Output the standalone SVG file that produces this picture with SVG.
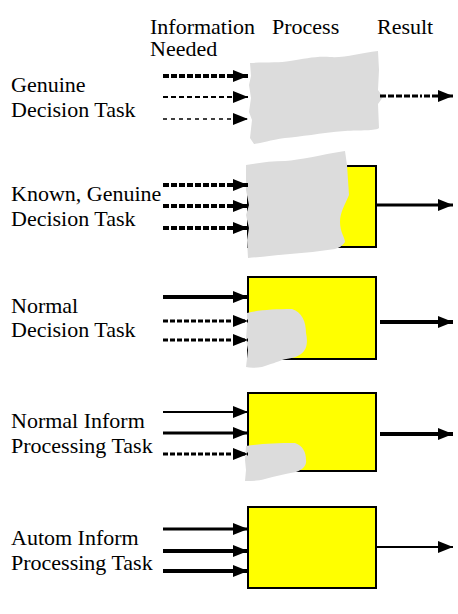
<svg xmlns="http://www.w3.org/2000/svg" width="458" height="614" viewBox="0 0 458 614">
<style>
.box{fill:#ffff00;stroke:#000;stroke-width:2}
.blob{fill:#dcdcdc}
.ln{stroke:#000;fill:none}
</style>
<defs>
<marker id="ah" markerUnits="userSpaceOnUse" viewBox="0 0 15 12" refX="15" refY="6" markerWidth="15" markerHeight="12" orient="auto">
<path d="M0,0 L15,6 L0,12 Z" fill="#000"/>
</marker>
</defs>
<g id="headers">
<text x="150" y="34" font-family="Liberation Serif" font-size="22">Information</text>
<text x="150" y="56" font-family="Liberation Serif" font-size="22">Needed</text>
<text x="272" y="34" font-family="Liberation Serif" font-size="22">Process</text>
<text x="377" y="34" font-family="Liberation Serif" font-size="22">Result</text>
</g>
<g id="label1">
<text x="11" y="92" font-family="Liberation Serif" font-size="22">Genuine</text>
<text x="11" y="117" font-family="Liberation Serif" font-size="22">Decision Task</text>
</g>
<g id="label2">
<text x="11" y="201" font-family="Liberation Serif" font-size="22">Known, Genuine</text>
<text x="11" y="226" font-family="Liberation Serif" font-size="22">Decision Task</text>
</g>
<g id="label3">
<text x="11" y="313" font-family="Liberation Serif" font-size="22">Normal</text>
<text x="11" y="337" font-family="Liberation Serif" font-size="22">Decision Task</text>
</g>
<g id="label4">
<text x="11" y="428" font-family="Liberation Serif" font-size="22">Normal Inform</text>
<text x="11" y="453" font-family="Liberation Serif" font-size="22">Processing Task</text>
</g>
<g id="label5">
<text x="11" y="545" font-family="Liberation Serif" font-size="22">Autom Inform</text>
<text x="11" y="570" font-family="Liberation Serif" font-size="22">Processing Task</text>
</g>
<g id="task1">
<path class="blob" d="M250,63 C265,62 280,63 290,61 C305,59 315,56 330,57 C345,58 360,53 378,51 L379,70 L378,90 L383,97 L378,104 L379,128 C376,131 360,130 345,131 C320,133 300,137 285,138 C270,140 262,143 254,144 L250,138 L252,120 L249,112 L251,98 L249,85 L251,76 Z"/>
</g>
<g id="task2">
<rect class="box" x="248" y="166" width="128" height="81"/>
<path class="blob" d="M246,165 C258,163 270,161 285,161 C300,160 320,155 345,151 L347,165 L348,180 L349,195 C345,205 340,212 340,222 C340,232 345,238 345,242 C342,246 339,248 335,249 C320,251 305,253 290,254 C275,255 262,257 248,258 L247,240 L249,228 L246,215 L249,205 L246,190 Z"/>
</g>
<g id="task3">
<rect class="box" x="248" y="277" width="128" height="82"/>
<path class="blob" d="M247,313 C258,310 275,309 292,309 C302,312 306,322 306,333 C308,342 307,350 301,354 C296,358 290,358 282,360 C278,362 270,364 262,367 C255,368 250,368 246,367 L248,350 L246,340 L247,325 Z"/>
</g>
<g id="task4">
<rect class="box" x="248" y="393" width="128" height="78"/>
<path class="blob" d="M246,446 C258,444 275,443 295,443 C303,446 306,452 306,460 C307,466 302,470 296,472 C285,474 275,476 265,479 C258,481 252,481 245,481 L246,470 L245,460 Z"/>
</g>
<g id="task5">
<rect class="box" x="248" y="507" width="128" height="81"/>
</g>
<g id="connectors">
<line class="ln" x1="163" y1="76" x2="248" y2="76" stroke-width="4" stroke-dasharray="6 2" marker-end="url(#ah)"/>
<line class="ln" x1="163" y1="97" x2="248" y2="97" stroke-width="2" stroke-dasharray="5 3" marker-end="url(#ah)"/>
<line class="ln" x1="163" y1="119" x2="248" y2="119" stroke-width="1.5" stroke-dasharray="4 4" marker-end="url(#ah)"/>
<line class="ln" x1="380" y1="96" x2="453" y2="96" stroke-width="3" stroke-dasharray="6 2 6 2 6 2 6 2 6 2 2 2" marker-end="url(#ah)"/>

<line class="ln" x1="163" y1="185" x2="248" y2="185" stroke-width="4" stroke-dasharray="6 2" marker-end="url(#ah)"/>
<line class="ln" x1="163" y1="206" x2="248" y2="206" stroke-width="4" stroke-dasharray="6 2" marker-end="url(#ah)"/>
<line class="ln" x1="163" y1="228" x2="248" y2="228" stroke-width="4" stroke-dasharray="6 2" marker-end="url(#ah)"/>
<line class="ln" x1="377" y1="205" x2="453" y2="205" stroke-width="3" marker-end="url(#ah)"/>

<line class="ln" x1="163" y1="297" x2="248" y2="297" stroke-width="4" marker-end="url(#ah)"/>
<line class="ln" x1="163" y1="321" x2="248" y2="321" stroke-width="3" stroke-dasharray="5 2" marker-end="url(#ah)"/>
<line class="ln" x1="163" y1="340" x2="248" y2="340" stroke-width="3" stroke-dasharray="5 2" marker-end="url(#ah)"/>
<line class="ln" x1="380" y1="322" x2="453" y2="322" stroke-width="4" marker-end="url(#ah)"/>

<line class="ln" x1="163" y1="412" x2="248" y2="412" stroke-width="2" marker-end="url(#ah)"/>
<line class="ln" x1="163" y1="433" x2="248" y2="433" stroke-width="3" marker-end="url(#ah)"/>
<line class="ln" x1="163" y1="454" x2="248" y2="454" stroke-width="3" stroke-dasharray="5 2" marker-end="url(#ah)"/>
<line class="ln" x1="380" y1="434" x2="453" y2="434" stroke-width="4" marker-end="url(#ah)"/>

<line class="ln" x1="163" y1="529" x2="248" y2="529" stroke-width="3" marker-end="url(#ah)"/>
<line class="ln" x1="163" y1="551" x2="248" y2="551" stroke-width="4" marker-end="url(#ah)"/>
<line class="ln" x1="163" y1="571" x2="248" y2="571" stroke-width="4" marker-end="url(#ah)"/>
<line class="ln" x1="377" y1="547" x2="453" y2="547" stroke-width="2" marker-end="url(#ah)"/>
</g>
</svg>
